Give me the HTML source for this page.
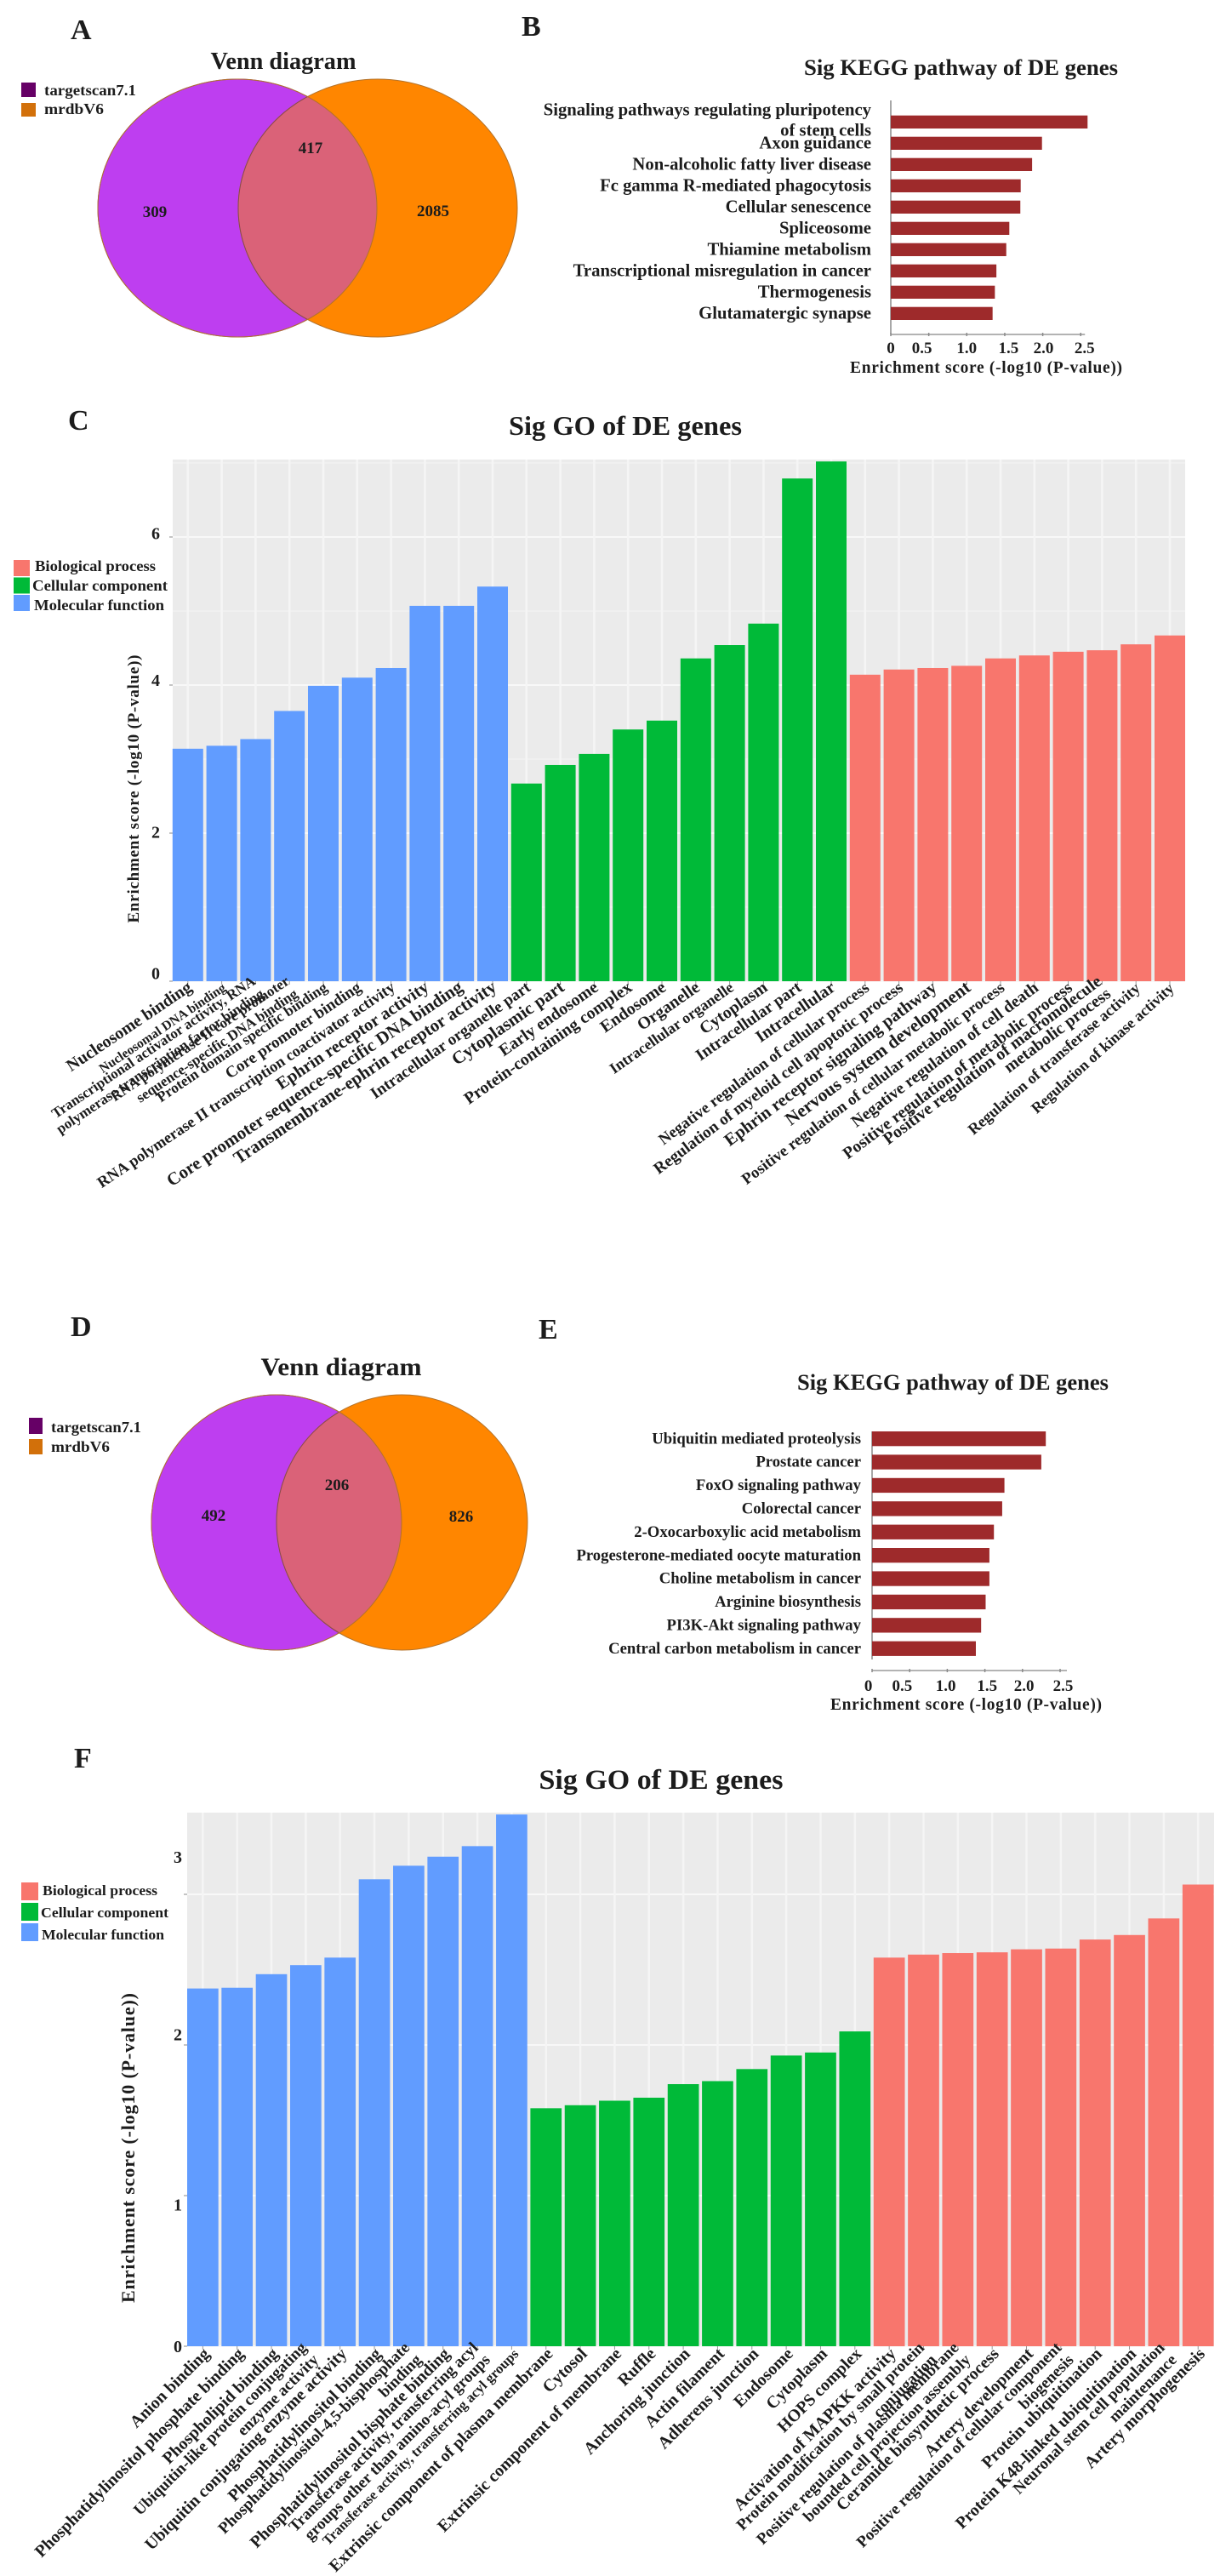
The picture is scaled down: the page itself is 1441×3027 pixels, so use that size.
<!DOCTYPE html>
<html lang="en">
<head>
<meta charset="utf-8">
<title>Venn diagrams, KEGG pathways and GO enrichment of DE genes</title>
<style>
html,body{margin:0;padding:0;background:#fff;}
svg{display:block;}
text{font-family:"Liberation Serif","Noto Serif CJK SC",serif;font-weight:bold;fill:#1c1c1c;}
</style>
</head>
<body>
<svg id="figure" xmlns="http://www.w3.org/2000/svg" width="1441" height="3027" viewBox="0 0 1441 3027">
<defs>
<clipPath id="clip-a"><ellipse cx="279" cy="244.5" rx="164" ry="151.5"/></clipPath>
<clipPath id="clip-d"><ellipse cx="325" cy="1789" rx="147" ry="150"/></clipPath>
</defs>
<rect width="1441" height="3027" fill="#fff"/>

<text x="83" y="46" font-size="34">A</text>
<text x="613" y="42" font-size="34">B</text>
<text x="80" y="505" font-size="34">C</text>
<text x="83" y="1570" font-size="34">D</text>
<text x="633" y="1573" font-size="34">E</text>
<text x="87" y="2077" font-size="34">F</text>

<g>
<text x="333" y="81" font-size="28" text-anchor="middle" textLength="171" lengthAdjust="spacingAndGlyphs">Venn diagram</text>
<rect x="25" y="97" width="17" height="17" fill="#660066"/>
<rect x="25" y="121" width="17" height="16" fill="#D2700A"/>
<text x="52" y="112" font-size="18" textLength="108" lengthAdjust="spacingAndGlyphs">targetscan7.1</text>
<text x="52" y="134" font-size="18" textLength="70" lengthAdjust="spacingAndGlyphs">mrdbV6</text>
<ellipse cx="279" cy="244.5" rx="164" ry="151.5" fill="#BE3EF0" stroke="#8a3aa8" stroke-width="1"/>
<ellipse cx="444" cy="244.5" rx="164" ry="151.5" fill="#FF8600" stroke="#b3722a" stroke-width="1"/>
<ellipse cx="444" cy="244.5" rx="164" ry="151.5" fill="#DA6278" stroke="#8a4a4a" stroke-width="1" clip-path="url(#clip-a)"/>
<ellipse cx="279" cy="244.5" rx="164" ry="151.5" fill="none" stroke="#b3722a" stroke-width="1"/>
<text x="365" y="180" font-size="19" text-anchor="middle">417</text>
<text x="182" y="255" font-size="19" text-anchor="middle">309</text>
<text x="509" y="254" font-size="19" text-anchor="middle">2085</text>
</g>

<g>
<text x="401" y="1616" font-size="30" text-anchor="middle" textLength="189" lengthAdjust="spacingAndGlyphs">Venn diagram</text>
<rect x="34" y="1666" width="16" height="19" fill="#660066"/>
<rect x="34" y="1691" width="16" height="18" fill="#D2700A"/>
<text x="60" y="1683" font-size="18" textLength="106" lengthAdjust="spacingAndGlyphs">targetscan7.1</text>
<text x="60" y="1706" font-size="18" textLength="69" lengthAdjust="spacingAndGlyphs">mrdbV6</text>
<ellipse cx="325" cy="1789" rx="147" ry="150" fill="#BE3EF0" stroke="#8a3aa8" stroke-width="1"/>
<ellipse cx="472.5" cy="1789" rx="147.5" ry="150" fill="#FF8600" stroke="#b3722a" stroke-width="1"/>
<ellipse cx="472.5" cy="1789" rx="147.5" ry="150" fill="#DA6278" stroke="#8a4a4a" stroke-width="1" clip-path="url(#clip-d)"/>
<ellipse cx="325" cy="1789" rx="147" ry="150" fill="none" stroke="#b3722a" stroke-width="1"/>
<text x="396" y="1751" font-size="19" text-anchor="middle">206</text>
<text x="251" y="1787" font-size="19" text-anchor="middle">492</text>
<text x="542" y="1788" font-size="19" text-anchor="middle">826</text>
</g>

<g id="chart-b"></g>
<g id="chart-e"></g>
<g id="chart-c"></g>
<g id="chart-f"></g>
</svg>

<script>
const keggBCategories = ["Signaling pathways regulating pluripotency\nof stem cells","Axon guidance","Non-alcoholic fatty liver disease","Fc gamma R-mediated phagocytosis","Cellular senescence","Spliceosome","Thiamine metabolism","Transcriptional misregulation in cancer","Thermogenesis","Glutamatergic synapse"];
const keggBValues = [2.59,1.99,1.86,1.71,1.705,1.56,1.52,1.39,1.37,1.34];
const keggBTicks = [0,0.5,1,1.5,2,2.5];
const keggBTickLabels = ["0","0.5","1.0","1.5","2.0","2.5"];

const keggECategories = ["Ubiquitin mediated proteolysis","Prostate cancer","FoxO signaling pathway","Colorectal cancer","2-Oxocarboxylic acid metabolism","Progesterone-mediated oocyte maturation","Choline metabolism in cancer","Arginine biosynthesis","PI3K-Akt signaling pathway","Central carbon metabolism in cancer"];
const keggEValues = [2.31,2.25,1.76,1.73,1.62,1.56,1.56,1.51,1.45,1.38];
const keggETicks = [0,0.5,1,1.5,2,2.5];
const keggETickLabels = ["0","0.5","1.0","1.5","2.0","2.5"];

const goCCategories = ["Nucleosome binding","Nucleosomal DNA binding","Transcriptional activator activity, RNA\npolymerase transcription factor binding","RNA polymerase II core promoter\nsequence-specific DNA binding","Protein domain specific binding","Core promoter binding","RNA polymerase II transcription coactivator activity","Ephrin receptor activity","Core promoter sequence-specific DNA binding","Transmembrane-ephrin receptor activity","Intracellular organelle part","Cytoplasmic part","Early endosome","Protein-containing complex","Endosome","Organelle","Intracellular organelle","Cytoplasm","Intracellular part","Intracellular","Negative regulation of cellular process","Regulation of myeloid cell apoptotic process","Ephrin receptor signaling pathway","Nervous system development","Positive regulation of cellular metabolic process","Negative regulation of cell death","Positive regulation of metabolic process","Positive regulation of macromolecule\nmetabolic process","Regulation of transferase activity","Regulation of kinase activity"];
const goCValues = [3.14,3.18,3.27,3.65,3.99,4.10,4.23,5.07,5.07,5.33,2.67,2.92,3.07,3.40,3.52,4.36,4.54,4.83,6.79,7.02,4.14,4.21,4.23,4.26,4.36,4.40,4.45,4.47,4.55,4.67];
const goCGroups = ["MF","MF","MF","MF","MF","MF","MF","MF","MF","MF","CC","CC","CC","CC","CC","CC","CC","CC","CC","CC","BP","BP","BP","BP","BP","BP","BP","BP","BP","BP"];
const goCMajorTicks = [0,2,4,6];
const goCMinorTicks = [1,3,5,7];
const goCTickLabels = ["0","2","4","6"];
const goCTickLabelAt = [0.11,2.02,4.07,6.05];

const goFCategories = ["Anion binding","Phosphatidylinositol phosphate binding","Phospholipid binding","Ubiquitin-like protein conjugating\nenzyme activity","Ubiquitin conjugating enzyme activity","Phosphatidylinositol binding","Phosphatidylinositol-4,5-bisphosphate\nbinding","Phosphatidylinositol bisphate binding","Transferase activity, transferring acyl\ngroups other than amino-acyl groups","Transferase activity, transferring acyl groups","Extrinsic component of plasma membrane","Cytosol","Extrinsic component of membrane","Ruffle","Anchoring junction","Actin filament","Adherens junction","Endosome","Cytoplasm","HOPS complex","Activation of MAPKK activity","Protein modification by small protein\nconjugation","Positive regulation of plasma membrane\nbounded cell projection assembly","Ceramide biosynthetic process","Artery development","Positive regulation of cellular component\nbiogenesis","Protein ubiquitination","Protein K48-linked ubiquitination","Neuronal stem cell population\nmaintenance","Artery morphogenesis"];
const goFValues = [2.375,2.38,2.47,2.53,2.58,3.10,3.19,3.25,3.32,3.53,1.58,1.60,1.63,1.65,1.74,1.76,1.84,1.93,1.95,2.09,2.58,2.60,2.61,2.615,2.635,2.64,2.70,2.73,2.84,3.065];
const goFGroups = goCGroups.slice();
const goFMajorTicks = [0,1,2,3];
const goFMinorTicks = [];
const goFTickLabels = ["0","1","2","3"];
const goFTickLabelAt = [0,0.94,2.07,3.25];

const legendNames = ["Biological process","Cellular component","Molecular function"];

const SVGNS = "http://www.w3.org/2000/svg";
const groupColor = {MF:"#619CFF",CC:"#00BA38",BP:"#F8766D"};
const goCLabelStyle = {fonts:[20,15.5,17,17,17.5,19,18.5,20.5,20.9,21,19.2,21,20,20,20,20,18,20,19.5,20,18.7,19.3,20.6,21.5,18.8,19.6,19.7,20,18.4,18]};
function mk(tag, attrs, parent){
  const el = document.createElementNS(SVGNS, tag);
  for (const k in attrs) el.setAttribute(k, attrs[k]);
  parent.appendChild(el);
  return el;
}
function slug(s){ return s.toLowerCase().replace(/[^a-z0-9]+/g,'-').replace(/^-|-$/g,''); }

function drawKegg(root, cfg, cats, vals, ticks, tickLabels){
  const xs = v => cfg.x0 + v*cfg.unit;
  const barY = i => cfg.barTop + i*cfg.pitch;

  const title = mk('text',{x:cfg.titleX,y:cfg.titleY,'font-size':26,'text-anchor':'middle',textLength:cfg.titleW,lengthAdjust:'spacingAndGlyphs'},root);
  title.textContent = 'Sig KEGG pathway of DE genes';
  
  

  const yAxis = mk('line',{x1:cfg.x0,x2:cfg.x0,y1:cfg.axisTop,y2:cfg.axisBottom,stroke:'#8a8a8a','stroke-width':1.5},root);
  
  

  const xAxis = mk('line',{x1:xs(0),x2:xs(ticks[ticks.length-1])+cfg.axisExtra,y1:cfg.xAxisY,y2:cfg.xAxisY,stroke:'#9a9a9a','stroke-width':1.5},root);
  
  

  ticks.forEach((t,i)=>{
    const tk = mk('line',{x1:xs(t),x2:xs(t),y1:cfg.xAxisY-2,y2:cfg.xAxisY+2,stroke:'#8a8a8a','stroke-width':1.5},root);
    
    
    const lb = mk('text',{x:xs(t)+cfg.tickNudge[i]*cfg.unit,y:cfg.tickLabelY,'font-size':19,'text-anchor':'middle'},root);
    lb.textContent = tickLabels[i];
    
    
  });

  cats.forEach((c,i)=>{
    const bar = mk('rect',{x:xs(0),y:barY(i),width:Math.max(0,xs(vals[i])-xs(0)),height:cfg.barH,fill:'#9E2A2B'},root);
    
    
    const lines = c.split('\n');
    lines.forEach((ln,k)=>{
      const yy = barY(i)+cfg.barH/2+cfg.fontSize*0.3 + (lines.length>1 ? (k===0?-14:10) : 0);
      const t = mk('text',{x:cfg.labelRight,y:yy,'font-size':cfg.fontSize,'text-anchor':'end'},root);
      t.textContent = ln;
      
      
    });
  });

  const xt = mk('text',{x:cfg.xTitleX,y:cfg.xTitleY,'font-size':19.5,'text-anchor':'middle',textLength:cfg.xTitleW},root);
  xt.textContent = 'Enrichment score (-log10 (P-value))';
  
  
}

function drawGo(root, cfg, cats, vals, groups, major, minor, tickLabels, tickAt){
  const ys = v => cfg.y0 - v*cfg.unit;
  const barX = i => cfg.barLeft + i*cfg.pitch;

  const title = mk('text',{x:cfg.titleX,y:cfg.titleY,'font-size':cfg.titleSize,'text-anchor':'middle',textLength:cfg.titleW,lengthAdjust:'spacingAndGlyphs'},root);
  title.textContent = 'Sig GO of DE genes';
  
  

  const panel = mk('rect',{x:cfg.left,y:cfg.top,width:cfg.right-cfg.left,height:cfg.y0-cfg.top,fill:'#EBEBEB'},root);
  
  

  minor.forEach(t=>{
    const g = mk('line',{x1:cfg.left,x2:cfg.right,y1:ys(t),y2:ys(t),stroke:'#F3F3F3','stroke-width':1.2},root);
    
    
  });
  major.forEach(t=>{
    const g = mk('line',{x1:cfg.left,x2:cfg.right,y1:ys(t),y2:ys(t),stroke:'#F8F8F8','stroke-width':2},root);
    
    
    const tk = mk('line',{x1:cfg.left-4,x2:cfg.left,y1:ys(t),y2:ys(t),stroke:'#888','stroke-width':1},root);
    
    
  });
  cats.forEach((c,i)=>{
    const cx = barX(i)+cfg.barW/2;
    const g = mk('line',{x1:cx,x2:cx,y1:cfg.top,y2:cfg.y0,stroke:'#F5F5F5','stroke-width':2.5},root);
    
    
  });

  cats.forEach((c,i)=>{
    const cx = barX(i)+cfg.barW/2;
    const top = Math.max(ys(vals[i]), cfg.top);
    const bar = mk('rect',{x:barX(i),y:top,width:cfg.barW,height:cfg.y0-top,fill:groupColor[groups[i]]},root);
    
    
    const tk = mk('line',{x1:cx,x2:cx,y1:cfg.y0,y2:cfg.y0+4,stroke:'#999','stroke-width':1},root);
    
    

    const angle = (cfg.angleByIndex && cfg.angleByIndex[i]) || cfg.angle[groups[i]];
    const rad = angle*Math.PI/180;
    const lines = c.split('\n');
    let size;
    if (cfg.fonts) size = cfg.fonts[i];
    else size = cfg.small.includes(c) ? cfg.smallSize : (lines.length>1 ? cfg.wrapSize : cfg.fontSize);
    lines.forEach((ln,k)=>{
      const off = (k-(lines.length-1)/2)*cfg.lineH;
      const px = cx + cfg.labelDx + Math.sin(rad)*off;
      const py = cfg.labelY + Math.cos(rad)*off;
      const t = mk('text',{x:px,y:py,'font-size':size,'text-anchor':'end',transform:'rotate(-'+angle+' '+px+' '+py+')'},root);
      t.textContent = ln;
      
      
    });
  });

  tickLabels.forEach((lab,i)=>{
    const t = mk('text',{x:cfg.tickLabelX,y:ys(tickAt[i])+7,'font-size':20,'text-anchor':'middle'},root);
    t.textContent = lab;
    
    
  });

  const yt = mk('text',{x:cfg.yTitleX,y:cfg.yTitleY,'font-size':cfg.yTitleSize,'text-anchor':'middle',textLength:cfg.yTitleW,transform:'rotate(-90 '+cfg.yTitleX+' '+cfg.yTitleY+')'},root);
  yt.textContent = 'Enrichment score (-log10 (P-value))';
  
  

  const legendColors = [groupColor.BP, groupColor.CC, groupColor.MF];
  legendNames.forEach((n,i)=>{
    const l = cfg.legend;
    const sw = mk('rect',{x:l.x,y:l.y+i*l.step,width:l.w,height:l.h,fill:legendColors[i]},root);
    
    
    const t = mk('text',{x:l.tx[i],y:l.by+i*l.bstep,'font-size':l.size,textLength:l.tw[i],lengthAdjust:'spacingAndGlyphs',fill:'#2a2a2a'},root);
    t.textContent = n;
    
    
  });
}

drawKegg(document.getElementById('chart-b'),{
  x0:1047,unit:89.3,barTop:135.7,pitch:25,barH:15.3,axisTop:118,axisBottom:393,xAxisY:393,axisExtra:5,
  titleX:1129.5,titleY:88,titleW:369,labelRight:1024,fontSize:20.7,
  tickLabelY:415,tickNudge:[0,-0.09,0,0.05,0.01,0.05],xTitleX:1159,xTitleY:438,xTitleW:320
},keggBCategories,keggBValues,keggBTicks,keggBTickLabels);

drawKegg(document.getElementById('chart-e'),{
  x0:1025,unit:88.4,barTop:1682,pitch:27.4,barH:17.3,axisTop:1682,axisBottom:1950,xAxisY:1963,axisExtra:8,
  titleX:1120,titleY:1633,titleW:366,labelRight:1012,fontSize:18.7,
  tickLabelY:1987,tickNudge:[-0.05,-0.1,-0.02,0.03,0.02,0.04],xTitleX:1135.5,xTitleY:2009,xTitleW:319
},keggECategories,keggEValues,keggETicks,keggETickLabels);

drawGo(document.getElementById('chart-c'),{
  left:203,right:1393,top:540,y0:1153,unit:87,barLeft:202.8,pitch:39.8,barW:36,
  titleX:735,titleY:511,titleSize:32,titleW:274,
  angle:{MF:34,CC:35,BP:37},angleByIndex:{28:41,29:42},labelDx:6,labelY:1163,fonts:goCLabelStyle.fonts,lineH:18,
  tickLabelX:183,yTitleX:163,yTitleY:927,yTitleSize:19,yTitleW:315,
  legend:{x:16,y:658,w:19,h:19,step:20.5,by:671,bstep:23,size:18,tx:[41,38,40],tw:[142,159,153]}
},goCCategories,goCValues,goCGroups,goCMajorTicks,goCMinorTicks,goCTickLabels,goCTickLabelAt);

drawGo(document.getElementById('chart-f'),{
  left:220,right:1427,top:2130,y0:2757,unit:177,barLeft:220,pitch:40.34,barW:36.7,
  titleX:777,titleY:2102,titleSize:33,titleW:287,
  angle:{MF:45,CC:45,BP:45},labelDx:9,labelY:2767,fontSize:20,wrapSize:19,smallSize:16.5,lineH:20,
  small:["Transferase activity, transferring acyl groups"],
  tickLabelX:209,yTitleX:158,yTitleY:2524,yTitleSize:22,yTitleW:364,
  legend:{x:25,y:2212,w:20,h:21,step:24,by:2227,bstep:26,size:17,tx:[50,48,49],tw:[135,150,144]}
},goFCategories,goFValues,goFGroups,goFMajorTicks,goFMinorTicks,goFTickLabels,goFTickLabelAt);
</script>
</body>
</html>
